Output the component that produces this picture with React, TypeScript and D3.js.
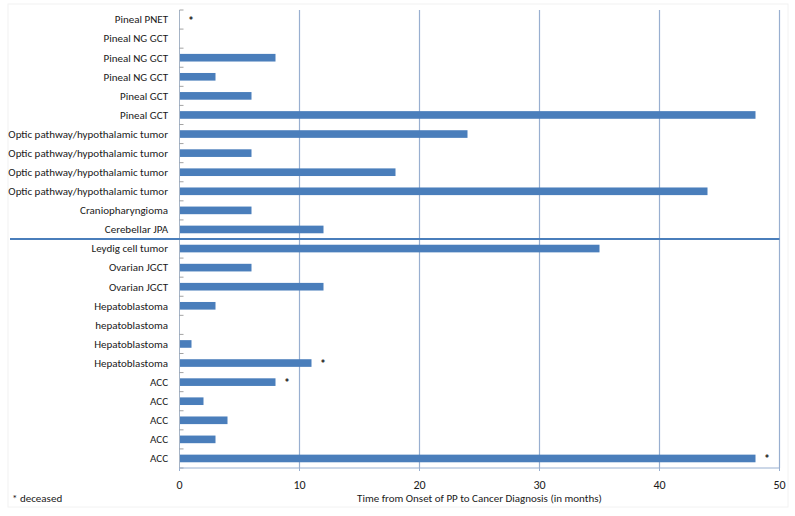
import React from "react";
import * as d3 from "d3";

const categories = [
  "Pineal PNET",
  "Pineal NG GCT",
  "Pineal NG GCT",
  "Pineal NG GCT",
  "Pineal GCT",
  "Pineal GCT",
  "Optic pathway/hypothalamic tumor",
  "Optic pathway/hypothalamic tumor",
  "Optic pathway/hypothalamic tumor",
  "Optic pathway/hypothalamic tumor",
  "Craniopharyngioma",
  "Cerebellar JPA",
  "Leydig cell tumor",
  "Ovarian JGCT",
  "Ovarian JGCT",
  "Hepatoblastoma",
  "hepatoblastoma",
  "Hepatoblastoma",
  "Hepatoblastoma",
  "ACC",
  "ACC",
  "ACC",
  "ACC",
  "ACC",
];
const months = [0, 0, 8, 3, 6, 48, 24, 6, 18, 44, 6, 12, 35, 6, 12, 3, 0, 1, 11, 8, 2, 4, 3, 48];
const deceased = [true, false, false, false, false, false, false, false, false, false, false, false, false, false, false, false, false, false, true, true, false, false, false, true];
const xTicks = [0, 10, 20, 30, 40, 50];
const separatorAfter = 11;

const W = 795;
const H = 516;
const left = 179.5;
const right = 779.5;
const top = 10;
const bottom = 468;
const font = "Carlito, Calibri, Lato, 'Liberation Sans', Arial, sans-serif";
const barColor = "#4A7EBB";
const gridColor = "#98AFD0";

export default function App() {
  const x = d3.scaleLinear().domain([0, 50]).range([left, right]);
  const idx = categories.map((_, i) => i);
  const y = d3.scaleBand<number>().domain(idx).range([top, bottom]).paddingInner(0.6).paddingOuter(0.3);
  const step = y.step();
  const sepY = top + (separatorAfter + 1) * step;

  return (
    <svg width={W} height={H} style={{ position: "absolute", left: 0, top: 0, background: "#fff" }} fontFamily={font}>
      <rect x={8} y={4} width={780} height={503} fill="none" stroke="#f2f2f2" strokeWidth={1} />
      {xTicks.map((t) =>
        t === 0 ? null : (
          <line key={"g" + t} x1={x(t)} x2={x(t)} y1={top} y2={bottom} stroke={gridColor} strokeWidth={1.2} />
        )
      )}
      {idx.map((i) => (
        <rect key={"b" + i} x={x(0)} y={y(i)!} width={x(months[i]) - x(0)} height={y.bandwidth()} fill={barColor} />
      ))}
      {/* left axis */}
      <line x1={x(0)} x2={x(0)} y1={top} y2={bottom} stroke="#a6b4c6" strokeWidth={1} />
      {d3.range(categories.length + 1).map((k) => (
        <line key={"yt" + k} x1={x(0)} x2={x(0) + 4} y1={top + k * step} y2={top + k * step} stroke="#8c8c8c" strokeWidth={0.8} />
      ))}
      {/* bottom axis */}
      <line x1={x(0)} x2={x(50)} y1={bottom} y2={bottom} stroke={gridColor} strokeWidth={1} />
      {xTicks.map((t) => (
        <line key={"xt" + t} x1={x(t)} x2={x(t)} y1={bottom} y2={bottom + 3} stroke={gridColor} strokeWidth={1} />
      ))}
      {xTicks.map((t) => (
        <text key={"xl" + t} x={x(t)} y={bottom + 21} textAnchor="middle" fontSize={12} fill="#1a1a1a">
          {t}
        </text>
      ))}
      {idx.map((i) => (
        <text
          key={"yl" + i}
          x={168}
          y={y(i)! + y.bandwidth() / 2}
          dy="0.35em"
          textAnchor="end"
          fontSize={11}
          fill="#1a1a1a"
        >
          {categories[i]}
        </text>
      ))}
      {idx.map((i) =>
        deceased[i] ? (
          <text key={"s" + i} x={x(months[i] + 0.95)} y={y(i)! + y.bandwidth() / 2 + 5} textAnchor="middle" fontSize={12} fontWeight="bold" fill="#1a1a1a">
            *
          </text>
        ) : null
      )}
      <line x1={10} x2={x(50)} y1={sepY} y2={sepY} stroke={barColor} strokeWidth={2} />
      <text x={(left + right) / 2} y={502} textAnchor="middle" fontSize={11} fill="#1a1a1a">
        Time from Onset of PP to Cancer Diagnosis (in months)
      </text>
      <text x={12} y={502} fontSize={11} fill="#1a1a1a">
        * deceased
      </text>
    </svg>
  );
}
